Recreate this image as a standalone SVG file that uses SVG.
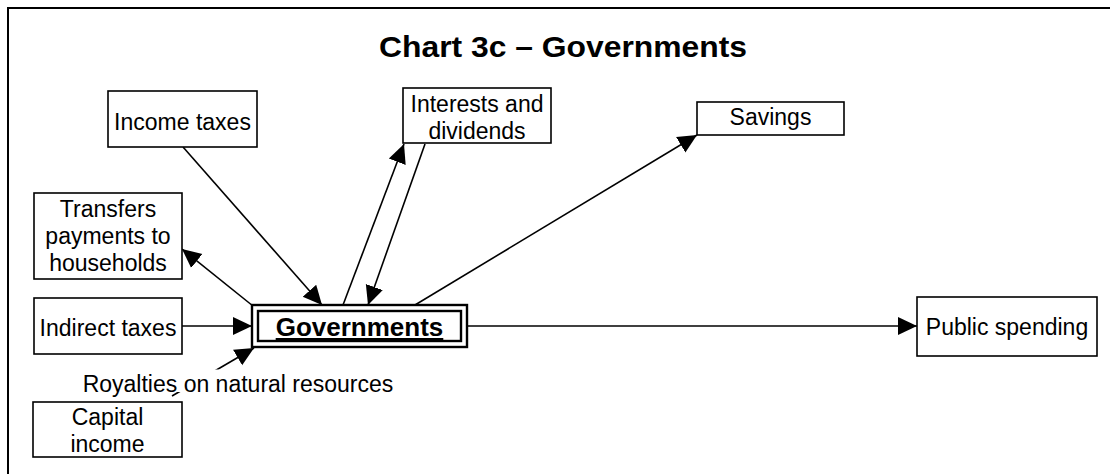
<svg xmlns="http://www.w3.org/2000/svg" width="1110" height="474" viewBox="0 0 1110 474">
<style>
.box{fill:#fff;stroke:#000;stroke-width:1.6}
.t{font-family:"Liberation Sans",Arial,sans-serif;font-size:23px;fill:#000;text-anchor:middle}
.c{stroke:#000;stroke-width:1.6;fill:none}
</style>
<defs>
<marker id="ah" markerUnits="userSpaceOnUse" markerWidth="20" markerHeight="20" viewBox="0 0 20 20" refX="19" refY="10" orient="auto">
<path d="M0,1 L19,10 L0,19 Z" fill="#000"/>
</marker>
</defs>
<rect x="0" y="0" width="1110" height="474" fill="#fff"/>
<rect x="8" y="8" width="1120" height="480" fill="none" stroke="#000" stroke-width="2"/>
<text x="563" y="57" font-family="Liberation Sans,Arial,sans-serif" font-size="30" font-weight="bold" text-anchor="middle" textLength="368" lengthAdjust="spacingAndGlyphs">Chart 3c – Governments</text>
<g id="connectors">
<line class="c" x1="183" y1="147" x2="322" y2="305" marker-end="url(#ah)"/>
<line class="c" x1="343" y1="305" x2="404" y2="144" marker-end="url(#ah)"/>
<line class="c" x1="425" y1="144" x2="368" y2="305" marker-end="url(#ah)"/>
<line class="c" x1="415" y1="305" x2="697" y2="135" marker-end="url(#ah)"/>
<line class="c" x1="253" y1="306" x2="182" y2="249" marker-end="url(#ah)"/>
<line class="c" x1="182" y1="326" x2="252" y2="326" marker-end="url(#ah)"/>
<line class="c" x1="172" y1="396" x2="254" y2="348" marker-end="url(#ah)"/>
<line class="c" x1="467" y1="326" x2="917" y2="326" marker-end="url(#ah)"/>
</g>
<g id="royalties">
<rect x="76" y="369.5" width="324" height="22.5" fill="#fff"/>
<text class="t" x="238" y="392">Royalties on natural resources</text>
</g>
<g id="governments">
<rect x="252" y="305" width="215" height="42" fill="#fff" stroke="#000" stroke-width="2.4"/>
<rect x="258" y="311" width="203" height="30" fill="none" stroke="#000" stroke-width="2.4"/>
<text x="359.5" y="336" font-family="Liberation Sans,Arial,sans-serif" font-size="26" font-weight="bold" text-anchor="middle" text-decoration="underline">Governments</text>
</g>
<g id="income-taxes">
<rect class="box" x="108" y="91" width="149" height="56"/>
<text class="t" x="182.5" y="130">Income taxes</text>
</g>
<g id="interests">
<rect class="box" x="403" y="88" width="148" height="55"/>
<text class="t" x="477" y="112">Interests and</text>
<text class="t" x="477" y="139">dividends</text>
</g>
<g id="savings">
<rect class="box" x="697" y="102" width="147" height="33"/>
<text class="t" x="770.5" y="125">Savings</text>
</g>
<g id="transfers">
<rect class="box" x="34" y="193" width="148" height="86"/>
<text class="t" x="108" y="217">Transfers</text>
<text class="t" x="108" y="244">payments to</text>
<text class="t" x="108" y="271">households</text>
</g>
<g id="indirect-taxes">
<rect class="box" x="34" y="298" width="148" height="56"/>
<text class="t" x="108" y="336">Indirect taxes</text>
</g>
<g id="capital-income">
<rect class="box" x="33" y="402" width="149" height="55"/>
<text class="t" x="107.5" y="425">Capital</text>
<text class="t" x="107.5" y="452">income</text>
</g>
<g id="public-spending">
<rect class="box" x="917" y="297" width="180" height="59"/>
<text class="t" x="1007" y="335">Public spending</text>
</g>
</svg>
